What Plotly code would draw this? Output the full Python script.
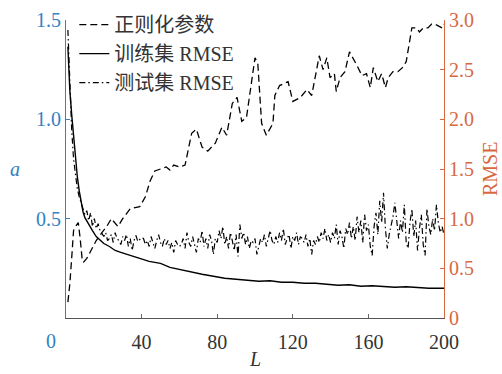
import plotly.graph_objects as go

# ---- data ----
L_reg = [1, 2, 3, 4, 5, 6.5, 7.5, 8.5, 9.2, 11, 12.7, 16, 19, 21.5, 24, 26, 27.5, 30, 34, 39,
         42, 44.5, 47, 50, 53, 55, 57, 60, 63, 66.5, 69, 72, 75, 79, 82.5, 85, 88, 90.5, 93, 95.5,
         98.5, 100, 101.5, 103.5, 106, 109.5, 110.5, 113, 117.5, 120, 124, 127.5, 130, 131.7, 134, 136, 138, 139.7, 142, 143,
         145, 147.6, 150, 154, 156.6, 159, 161, 162.6, 165, 167, 169, 170.5, 173, 175.6, 178, 180, 182, 183, 185.5, 187,
         189, 191.5, 193.5, 196, 199, 200]
a_reg = [0.08, 0.17, 0.30, 0.44, 0.46, 0.48, 0.40, 0.30, 0.28, 0.30, 0.33, 0.39, 0.43, 0.46, 0.50, 0.48, 0.46, 0.50, 0.55, 0.56,
         0.61, 0.69, 0.74, 0.75, 0.76, 0.745, 0.77, 0.76, 0.77, 0.93, 0.95, 0.86, 0.84, 0.88, 0.96, 0.92, 1.08, 1.11, 0.99, 1.01,
         1.21, 1.31, 1.28, 0.98, 0.92, 0.98, 1.12, 1.17, 1.19, 1.09, 1.11, 1.15, 1.12, 1.20, 1.32, 1.25, 1.31, 1.21, 1.23, 1.14,
         1.21, 1.24, 1.34, 1.27, 1.22, 1.23, 1.16, 1.26, 1.19, 1.23, 1.16, 1.21, 1.24, 1.24, 1.26, 1.29, 1.41, 1.46, 1.46, 1.44,
         1.46, 1.46, 1.48, 1.475, 1.46, 1.48]

L_train = [1, 2, 3, 4, 5, 6, 7, 8, 9, 10, 12, 14, 16, 18, 20, 23, 26, 29, 32, 35,
           39, 44, 50, 55, 60, 66, 72, 78, 84, 90, 96, 102, 108, 114, 120, 126, 132, 138, 144, 150,
           156, 162, 168, 174, 180, 186, 192, 200]
rmse_train = [2.73, 2.30, 2.05, 1.85, 1.60, 1.42, 1.28, 1.17, 1.07, 1.01, 0.94, 0.88, 0.82, 0.78, 0.75, 0.72, 0.68, 0.66, 0.64, 0.62,
              0.60, 0.57, 0.55, 0.51, 0.49, 0.46, 0.44, 0.42, 0.40, 0.39, 0.38, 0.37, 0.375, 0.36, 0.36, 0.35, 0.35, 0.34, 0.33, 0.335,
              0.32, 0.325, 0.32, 0.31, 0.315, 0.305, 0.30, 0.30]

L_test = list(range(1, 201))
rmse_test = [
    2.90, 2.30, 1.90, 1.60, 1.45, 1.30, 1.22, 1.15, 1.10, 1.04, 1.08, 0.98, 1.06, 0.92, 1.00, 0.90, 0.95, 0.88, 0.85, 0.82,
    0.86, 0.78, 0.80, 0.84, 0.76, 0.86, 0.80, 0.78, 0.74, 0.82, 0.78, 0.84, 0.72, 0.80, 0.68, 0.78, 0.83, 0.77, 0.79, 0.81,
    0.80, 0.74, 0.78, 0.72, 0.82, 0.76, 0.70, 0.78, 0.84, 0.76, 0.72, 0.80, 0.74, 0.78, 0.70, 0.76, 0.66, 0.78, 0.74, 0.72,
    0.74, 0.80, 0.70, 0.86, 0.76, 0.72, 0.82, 0.74, 0.66, 0.80, 0.76, 0.88, 0.72, 0.80, 0.70, 0.84, 0.78, 0.64, 0.80, 0.76,
    0.88, 0.80, 0.92, 0.74, 0.82, 0.70, 0.86, 0.78, 0.68, 0.84, 0.62, 0.94, 0.80, 0.86, 0.74, 0.82, 0.70, 0.78, 0.76, 0.80,
    0.64, 0.72, 0.80, 0.76, 0.84, 0.72, 0.80, 0.88, 0.78, 0.74, 0.82, 0.76, 0.86, 0.78, 0.90, 0.74, 0.80, 0.84, 0.70, 0.82,
    0.78, 0.86, 0.74, 0.82, 0.80, 0.76, 0.84, 0.72, 0.80, 0.64, 0.78, 0.74, 0.82, 0.76, 0.86, 0.80, 0.90, 0.78, 0.84, 0.76,
    0.86, 0.80, 0.94, 0.74, 0.88, 0.82, 0.70, 0.90, 0.84, 0.96, 0.80, 0.92, 0.78, 1.02, 0.86, 0.98, 0.76, 1.04, 0.88, 0.94,
    0.72, 0.63, 0.92, 1.06, 0.84, 1.18, 0.96, 1.26, 0.90, 0.70, 0.84, 0.92, 1.02, 1.16, 0.94, 0.80, 0.98, 0.86, 1.14, 0.76,
    0.70, 0.96, 1.10, 0.82, 0.98, 0.68, 0.90, 1.04, 0.74, 0.63, 1.10, 0.92, 0.84, 1.00, 0.88, 1.14, 0.96, 0.86, 0.92, 0.84,
]

x_ticks = [40, 80, 120, 160, 200]
y1_ticks = [0.5, 1.0, 1.5]
y1_labels = ["0.5", "1.0", "1.5"]
y2_ticks = [0, 0.5, 1.0, 1.5, 2.0, 2.5, 3.0]
y2_labels = ["0", "0.5", "1.0", "1.5", "2.0", "2.5", "3.0"]
names = ["正则化参数", "训练集 RMSE", "测试集 RMSE"]

BLUE = "#3282c4"
ORANGE = "#d8693f"
FONT = "Liberation Serif, Noto Sans CJK SC, serif"

fig = go.Figure()
fig.add_trace(go.Scatter(x=L_reg, y=a_reg, mode="lines", name=names[0],
                         line=dict(color="black", width=1.3, dash="7px,4px"), yaxis="y"))
fig.add_trace(go.Scatter(x=L_train, y=rmse_train, mode="lines", name=names[1],
                         line=dict(color="black", width=1.4), yaxis="y2"))
fig.add_trace(go.Scatter(x=L_test, y=rmse_test, mode="lines", name=names[2],
                         line=dict(color="black", width=1.2, dash="6px,3px,1.5px,3px"), yaxis="y2"))

fig.update_layout(
    width=502, height=374,
    margin=dict(l=66, r=58, t=20, b=56, autoexpand=False),
    paper_bgcolor="white", plot_bgcolor="white",
    font=dict(family=FONT, size=20, color="#333"),
    showlegend=True,
    legend=dict(x=0.022, y=1.05, xanchor="left", yanchor="top", bgcolor="rgba(0,0,0,0)",
                font=dict(size=20, family=FONT, color="#333"), tracegroupgap=0, itemwidth=30),
    xaxis=dict(range=[0, 200], tickvals=x_ticks, ticks="inside", ticklen=4, tickcolor="#666",
               showline=True, linecolor="#555", linewidth=1, showgrid=False, zeroline=False,
               ticklabelstandoff=6,
               tickfont=dict(size=20, color="#333", family=FONT)),
    yaxis=dict(range=[0, 1.5], tickvals=y1_ticks, ticktext=y1_labels, ticks="inside", ticklen=4,
               tickcolor=BLUE, showline=True, linecolor=BLUE, linewidth=1.2, showgrid=False, zeroline=False,
               tickfont=dict(size=20, color=BLUE, family=FONT)),
    yaxis2=dict(range=[0, 3.0], tickvals=y2_ticks, ticktext=y2_labels, ticks="inside", ticklen=4,
                tickcolor=ORANGE, showline=True, linecolor=ORANGE, linewidth=1.2, showgrid=False, zeroline=False,
                overlaying="y", side="right", tickfont=dict(size=20, color=ORANGE, family=FONT)),
    annotations=[
        dict(text="0", xref="paper", yref="paper", x=0, y=0, xanchor="right", yanchor="top",
             xshift=-8, yshift=-10, showarrow=False, font=dict(size=20, color=BLUE, family=FONT)),
        dict(text="<i>a</i>", xref="paper", yref="paper", x=0, y=0.5, xanchor="center", yanchor="middle",
             xshift=-51, showarrow=False, font=dict(size=20, color=BLUE, family=FONT)),
        dict(text="RMSE", xref="paper", yref="paper", x=1, y=0.5, xanchor="center", yanchor="middle",
             xshift=46, textangle=-90, showarrow=False, font=dict(size=20, color=ORANGE, family=FONT)),
        dict(text="<i>L</i>", xref="paper", yref="paper", x=0.5, y=0, xanchor="center", yanchor="top",
             yshift=-28, showarrow=False, font=dict(size=20, color="#333", family=FONT)),
    ],
)

fig.write_html("out.html", config={"displayModeBar": False},
               post_script="document.body.style.margin='0';document.body.style.overflow='hidden';")
